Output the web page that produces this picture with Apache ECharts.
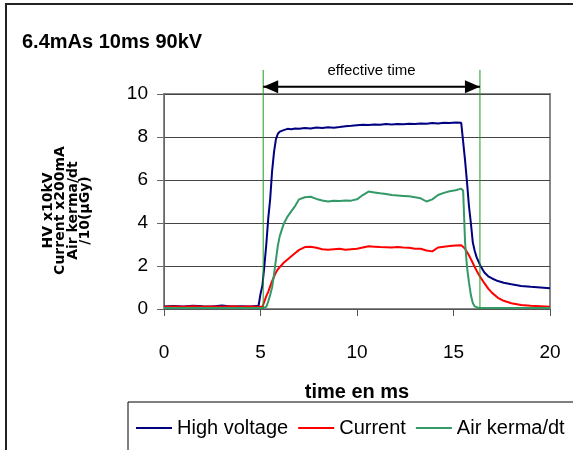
<!DOCTYPE html>
<html><head><meta charset="utf-8">
<script src="https://cdn.jsdelivr.net/npm/echarts@6/dist/echarts.min.js"></script>
<style>html,body{margin:0;padding:0;background:#fff}#c{width:573px;height:450px}</style>
</head><body><div id="c"></div>
<script>
const timeMs = [0,0.5,1,1.5,2,2.5,3,3.5,4,4.5,4.9,5.0,5.1,5.2,5.3,5.4,5.5,5.6,5.7,5.8,5.9,6.0,6.2,6.4,6.6,6.8,7.0,7.3,7.6,7.9,8.2,8.5,8.8,9.1,9.4,9.7,10.0,10.3,10.6,10.9,11.2,11.5,11.8,12.1,12.4,12.7,13.0,13.3,13.6,13.9,14.2,14.5,14.8,15.1,15.4,15.5,15.6,15.7,15.8,15.9,16.0,16.1,16.2,16.3,16.4,16.6,16.8,17.0,17.3,17.6,18.0,18.5,19.0,19.5,20.0];
const highVoltage = [0.12,0.14,0.12,0.15,0.13,0.12,0.16,0.12,0.13,0.12,
 0.15,0.7,1.1,2.0,3.0,4.2,5.1,6.4,7.3,7.9,8.15,8.25,
 8.32,8.38,8.36,8.4,
 8.38,8.42,8.4,8.44,8.42,8.45,8.43,8.46,8.5,8.52,8.55,8.57,8.56,8.58,8.57,8.6,8.58,8.6,8.59,8.62,8.6,8.63,8.62,8.65,8.63,8.66,8.65,8.67,8.66,
 8.6,6.9,5.9,4.8,4.0,3.1,2.7,2.4,2.2,2.0,
 1.7,1.52,1.42,1.3,1.22,1.15,1.07,1.03,1.0,0.97];
const current = [0.1,0.12,0.11,0.13,0.1,0.12,0.11,0.13,0.1,0.12,
 0.1,0.08,0.1,0.35,0.6,0.8,1.05,1.3,1.5,1.7,1.85,1.95,
 2.15,2.3,2.45,2.6,
 2.75,2.88,2.9,2.85,2.78,2.76,2.78,2.8,2.76,2.78,2.8,2.86,2.92,2.9,2.88,2.87,2.86,2.88,2.86,2.85,2.8,2.8,2.72,2.68,2.86,2.9,2.93,2.95,2.97,
 2.9,2.8,2.65,2.5,2.32,2.14,1.95,1.78,1.62,1.47,
 1.2,0.95,0.75,0.52,0.38,0.27,0.19,0.15,0.13,0.11];
const airKerma = [0.05,0.05,0.05,0.05,0.05,0.05,0.05,0.05,0.05,0.05,
 0.05,0.05,0.05,0.05,0.1,0.35,0.65,1.0,1.6,2.3,2.95,3.4,
 3.95,4.3,4.55,4.8,
 5.1,5.2,5.22,5.12,5.05,5.0,5.04,5.02,5.05,5.04,5.1,5.3,5.46,5.42,5.38,5.35,5.3,5.28,5.26,5.24,5.2,5.15,5.0,5.1,5.3,5.4,5.48,5.52,5.6,
 5.5,3.1,1.95,1.25,0.65,0.28,0.12,0.07,0.05,0.05,
 0.05,0.05,0.05,0.05,0.05,0.05,0.05,0.05,0.05,0.05];
const seriesNames = ['High voltage','Current','Air kerma/dt'];
const effectiveTime = [5.14, 16.37];
const markerTop = 11.12;
const arrowLevel = 10.34;
const titleText = '6.4mAs 10ms 90kV';
const yAxisName = 'HV x10kV\nCurrent x200mA\nAir kerma/dt\n/10(\u00b5Gy)';
const xAxisName = 'time en ms';
const annotationText = 'effective time';

const ARIAL = "'Liberation Sans',Arial,sans-serif";
const pairs = arr => timeMs.map((t, i) => [t, arr[i]]);
const chart = echarts.init(document.getElementById('c'), null, {renderer: 'canvas'});
const mkLine = (name, data, color, width) => ({
  name, type: 'line', data, symbol: 'none', showSymbol: false, animation: false,
  lineStyle: {color, width}, itemStyle: {color}
});
const vline = x => ({
  type: 'line', data: [[x, 0], [x, markerTop]], symbol: 'none', clip: false, silent: true,
  animation: false, lineStyle: {color: '#1f9a1f', width: 1}, z: 5
});
chart.setOption({
  backgroundColor: '#fff',
  animation: false,
  graphic: [{type: 'rect', shape: {x: 6, y: 4, width: 700, height: 600},
    style: {fill: 'none', stroke: '#222', lineWidth: 2}, z: -10}],
  title: {text: titleText, left: 17, top: 27,
    textStyle: {fontSize: 20, fontWeight: 'bold', fontFamily: ARIAL, color: '#000'}},
  grid: {left: 164, right: 23, top: 94, bottom: 141, show: true, borderColor: '#888', borderWidth: 2, backgroundColor: '#fff'},
  legend: {data: seriesNames, left: 128, top: 402, width: 540, padding: [16, 60, 40, 8], itemGap: 10,
    icon: 'rect', itemWidth: 36, itemHeight: 2, borderColor: '#000', borderWidth: 1, backgroundColor: '#fff',
    textStyle: {fontSize: 20, fontFamily: ARIAL, color: '#000'}},
  xAxis: {type: 'value', min: 0, max: 20, interval: 5,
    axisLine: {show: true, lineStyle: {color: '#555', width: 1}},
    axisTick: {show: true, inside: false, length: 7, lineStyle: {color: '#555'}},
    axisLabel: {fontSize: 19, fontFamily: ARIAL, color: '#000', margin: 34},
    splitLine: {show: false},
    name: xAxisName, nameLocation: 'middle', nameGap: 73,
    nameTextStyle: {fontSize: 20, fontWeight: 'bold', fontFamily: ARIAL, color: '#000'}},
  yAxis: {type: 'value', min: 0, max: 10, interval: 2,
    axisLine: {show: true, lineStyle: {color: '#666', width: 1}},
    axisTick: {show: true, inside: false, length: 7, lineStyle: {color: '#666'}},
    axisLabel: {fontSize: 19, fontFamily: ARIAL, color: '#000', margin: 16},
    splitLine: {show: true, lineStyle: {color: '#444', width: 1}},
    name: yAxisName, nameLocation: 'middle', nameRotate: 90, nameGap: 72,
    nameTextStyle: {fontSize: 14, fontWeight: 'bold', fontFamily: "'DejaVu Sans',sans-serif",
      color: '#000', lineHeight: 12.5, align: 'center', padding: [0, 18, 0, 0]}},
  series: [
    mkLine(seriesNames[0], pairs(highVoltage), '#000080', 2),
    mkLine(seriesNames[1], pairs(current), '#ff0000', 2),
    mkLine(seriesNames[2], pairs(airKerma), '#339966', 2),
    vline(effectiveTime[0]),
    vline(effectiveTime[1]),
    {type: 'line', clip: false, silent: true, animation: false, z: 6,
      showSymbol: true, symbol: 'triangle',
      lineStyle: {color: '#000', width: 2}, itemStyle: {color: '#000'},
      data: [
        {value: [effectiveTime[0], arrowLevel], symbol: 'triangle', symbolRotate: 90, symbolSize: [13, 15], symbolOffset: [7.5, 0]},
        {value: [(effectiveTime[0] + effectiveTime[1]) / 2, arrowLevel], symbol: 'circle', symbolSize: 1,
          itemStyle: {color: 'rgba(0,0,0,0)'},
          label: {show: true, position: 'top', distance: 8, formatter: annotationText,
            fontSize: 15, fontFamily: ARIAL, color: '#000'}},
        {value: [effectiveTime[1], arrowLevel], symbol: 'triangle', symbolRotate: -90, symbolSize: [13, 15], symbolOffset: [-7.5, 0]}
      ]}
  ]
});
</script>
</body></html>
